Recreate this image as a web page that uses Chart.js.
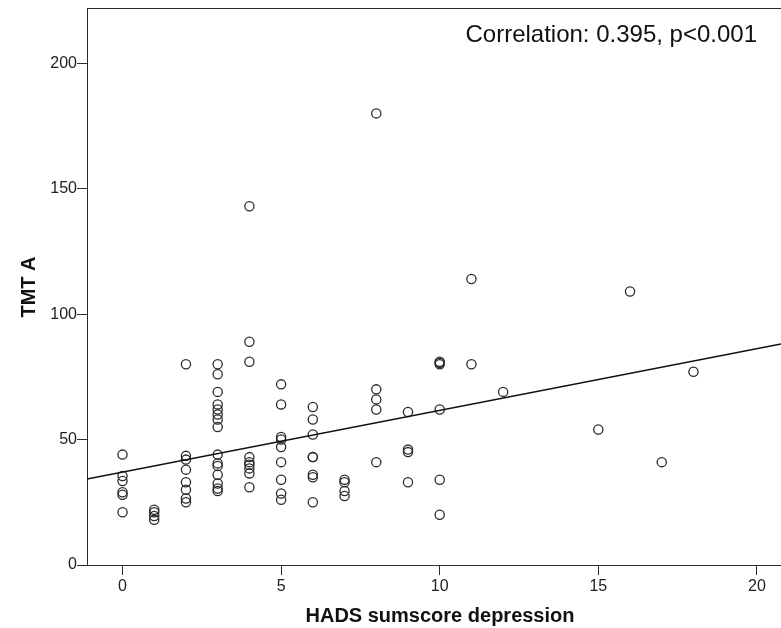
<!DOCTYPE html>
<html>
<head>
<meta charset="utf-8">
<script src="https://cdn.jsdelivr.net/npm/chart.js@4.4.1/dist/chart.umd.min.js"></script>
<style>
  html, body { margin: 0; padding: 0; background: #fff; }
</style>
</head>
<body>
<canvas id="myChart" width="781" height="628"></canvas>
<script>
/* global Chart */

// HADS depression score (x) and TMT A time (y), one entry per subject
const hadsScore = [
  0, 0, 0, 0, 0, 0,
  1, 1, 1, 1,
  2, 2, 2, 2, 2, 2, 2, 2,
  3, 3, 3, 3, 3, 3, 3, 3, 3, 3, 3, 3, 3, 3, 3,
  4, 4, 4, 4, 4, 4, 4, 4, 4,
  5, 5, 5, 5, 5, 5, 5, 5, 5,
  6, 6, 6, 6, 6, 6, 6, 6,
  7, 7, 7, 7,
  8, 8, 8, 8, 8,
  9, 9, 9, 9,
  10, 10, 10, 10, 10, 10,
  11, 11,
  12, 15, 16, 17, 18
];
const tmtA = [
  44, 35.5, 33.5, 29, 28, 21,
  22, 21, 19.5, 18,
  80, 43.5, 42, 38, 33, 30, 26.5, 25,
  80, 76, 69, 64, 62, 60, 58, 55, 44, 40.5, 39.5, 36, 32.5, 30.5, 29.5,
  143, 89, 81, 43, 41, 40, 38.5, 36.5, 31,
  72, 64, 51, 50, 47, 41, 34, 28.5, 26,
  63, 58, 52, 43, 43, 36, 35, 25,
  34, 33, 29.5, 27.5,
  180, 70, 66, 62, 41,
  61, 46, 45, 33,
  81, 80.5, 80, 62, 34, 20,
  114, 80,
  69, 54, 109, 41, 77
];

// fit line end points (left and right edge of the plot)
const fitX = [-1.12, 20.76];
const fitY = [34.3, 88.1];

const xTicks = [0, 5, 10, 15, 20];
const yTicks = [0, 50, 100, 150, 200];
const xTitle = 'HADS sumscore depression';
const yTitle = 'TMT A';
const corrText = 'Correlation: 0.395, p<0.001';

const FONT = '"Liberation Sans", Arial, sans-serif';
const INK = '#2a2a2a';

let points = hadsScore.map(function (x, i) { return { x: x, y: tmtA[i] }; });
let fitLine = fitX.map(function (x, i) { return { x: x, y: fitY[i] }; });

// frame top line, correlation note and axis titles
const decorations = {
  id: 'decorations',
  afterDraw: function (chart) {
    const ctx = chart.ctx;
    const area = chart.chartArea;
    ctx.save();
    ctx.strokeStyle = INK;
    ctx.lineWidth = 1;
    ctx.beginPath();
    ctx.moveTo(area.left, area.top + 0.5);
    ctx.lineTo(area.right, area.top + 0.5);
    ctx.stroke();

    ctx.fillStyle = '#111';
    ctx.font = '24px ' + FONT;
    ctx.textAlign = 'right';
    ctx.textBaseline = 'alphabetic';
    ctx.fillText(corrText, 757, 42);

    ctx.font = 'bold 20px ' + FONT;
    ctx.textAlign = 'center';
    ctx.fillText(xTitle, 440, 622);

    ctx.translate(34.5, 287);
    ctx.rotate(-Math.PI / 2);
    ctx.fillText(yTitle, 0, 0);
    ctx.restore();
  }
};

var ctx = document.getElementById('myChart').getContext('2d');
var myChart = new Chart(ctx, {
  type: 'scatter',
  data: {
    datasets: [{
      type: 'line',
      data: fitLine,
      borderColor: '#111',
      borderWidth: 1.5,
      pointRadius: 0,
      fill: false
    }, {
      data: points,
      pointStyle: 'circle',
      pointRadius: 4.6,
      pointBorderWidth: 1.3,
      borderColor: INK,
      backgroundColor: 'rgba(0,0,0,0)'
    }]
  },
  options: {
    responsive: false,
    animation: false,
    events: [],
    layout: { autoPadding: false, padding: { top: 8, right: 0, bottom: 0, left: 0 } },
    plugins: {
      legend: { display: false },
      tooltip: { enabled: false }
    },
    scales: {
      x: {
        type: 'linear',
        min: fitX[0],
        max: fitX[1],
        afterBuildTicks: function (scale) {
          scale.ticks = xTicks.map(function (v) { return { value: v }; });
        },
        afterFit: function (scale) {
          scale.height = 63;
          scale.paddingLeft = 0;
          scale.paddingRight = 0;
        },
        grid: { display: true, drawOnChartArea: false, drawTicks: true, tickLength: 10, tickColor: INK },
        border: { display: true, color: INK, width: 1 },
        ticks: { color: '#222', padding: 2, maxRotation: 0, autoSkip: false, font: { family: FONT, size: 16 } }
      },
      y: {
        type: 'linear',
        min: 0,
        max: 222,
        afterBuildTicks: function (scale) {
          scale.ticks = yTicks.map(function (v) { return { value: v }; });
        },
        afterFit: function (scale) {
          scale.width = 87;
          scale.paddingTop = 0;
          scale.paddingBottom = 0;
        },
        grid: { display: true, drawOnChartArea: false, drawTicks: true, tickLength: 10, tickColor: INK },
        border: { display: true, color: INK, width: 1 },
        ticks: { color: '#222', padding: 0, autoSkip: false, font: { family: FONT, size: 16 } }
      }
    }
  },
  plugins: [decorations]
});
</script>
</body>
</html>
